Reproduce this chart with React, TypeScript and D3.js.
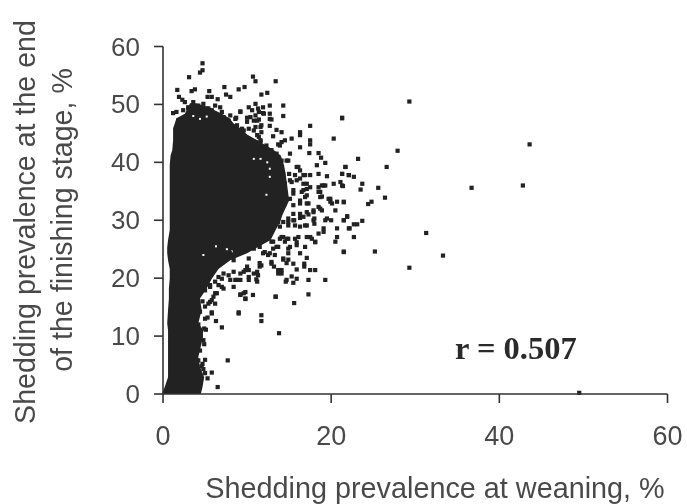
import React from "react";
import * as d3 from "d3";

const sparsePoints: [number, number][] = [
[4.7,57.1],[4.4,55.5],[4.7,55.9],[3.1,54.7],[1.7,52.5],[3.4,52.3],[3.8,52.6],[5.5,52.3],[7.3,53.0],[7.5,51.7],[8.0,51.3],[9.0,52.6],[9.7,53.0],[10.7,54.8],[11.0,54.0],[13.4,54.0],[11.7,51.7],[12.4,52.0],[5.3,51.3],[5.8,51.3],[6.5,50.9],[1.9,51.3],[2.3,50.8],[2.6,50.4],[1.2,48.5],[1.6,48.7],[1.8,47.2],[2.4,47.0],[3.6,50.4],[3.0,49.3],[3.8,49.6],[5.2,49.3],[4.8,50.1],[6.2,49.8],[6.8,49.5],[7.0,48.7],[8.0,48.1],[7.8,47.2],[9.2,48.8],[8.7,47.7],[10.2,49.5],[11.0,50.1],[10.6,49.0],[11.3,49.3],[11.9,49.5],[12.7,49.8],[11.9,48.5],[12.7,48.4],[12.7,47.5],[14.3,49.8],[14.3,48.0],[11.2,47.2],[10.4,47.8],[10.0,47.0],[11.6,46.1],[12.7,46.3],[9.6,45.5],[8.8,45.5],[10.8,45.5],[11.2,44.7],[9.0,44.4],[10.0,43.8],[11.0,43.5],[11.6,43.8],[13.5,45.6],[14.1,45.2],[13.1,44.5],[16.3,45.2],[16.3,44.7],[17.5,46.3],[21.3,47.7],[20.3,44.1],[15.3,44.1],[14.5,43.8],[14.1,43.5],[13.7,43.1],[17.5,43.8],[17.5,43.1],[16.3,42.6],[15.1,41.5],[17.4,41.6],[18.5,41.6],[18.8,40.8],[19.3,39.9],[18.3,39.5],[14.7,40.3],[14.1,40.3],[16.1,39.2],[16.3,38.6],[21.7,39.2],[21.3,38.0],[22.1,37.8],[18.5,38.0],[19.5,37.6],[17.5,37.8],[16.9,37.8],[20.3,36.3],[21.1,36.6],[21.4,35.9],[19.1,36.0],[18.5,35.7],[18.7,34.9],[18.9,34.1],[17.1,36.3],[17.5,35.7],[15.9,36.9],[15.1,36.9],[16.7,35.2],[17.1,34.3],[15.5,34.6],[17.1,32.9],[16.3,32.9],[18.7,32.0],[19.9,33.7],[20.1,32.9],[20.7,33.2],[21.5,33.2],[20.5,31.7],[17.9,31.4],[21.9,30.6],[19.5,30.3],[17.1,31.4],[16.3,31.1],
[19.3,30.0],[20.0,30.0],[21.5,30.0],[22.1,28.6],[20.7,28.6],[19.1,28.6],[18.5,27.7],[17.9,30.0],[17.1,29.1],[16.3,28.9],[15.5,30.0],[14.9,29.7],[14.3,27.1],[14.9,26.8],[15.7,26.8],[16.1,27.1],[17.1,27.1],[17.5,27.1],[18.1,26.3],[20.7,27.1],[20.5,26.3],[21.5,24.5],[16.9,25.4],[15.9,25.7],[15.1,25.4],[16.3,24.3],[14.9,24.3],[17.1,23.5],[14.3,23.2],[14.9,23.2],[15.5,22.5],[16.8,22.5],[16.8,22.0],[17.5,21.4],[18.1,21.4],[15.9,21.5],[15.3,20.3],[15.9,19.9],[14.6,19.4],[15.5,19.2],[17.3,19.7],[19.3,19.7],[17.3,17.2],[15.6,15.7],[13.4,16.8],[13.7,20.8],[14.1,21.4],[12.9,22.8],[13.2,22.0],[11.9,24.3],[12.5,24.0],[13.3,24.0],[13.7,25.4],[11.5,22.0],[11.2,21.1],[11.2,19.4],[10.2,19.7],[10.8,20.8],[9.8,21.4],[9.2,20.8],[8.8,19.7],[8.0,19.7],[7.0,19.9],[6.6,18.8],[7.2,18.2],[8.4,18.5],[9.8,17.6],[9.2,17.1],[9.8,16.4],[10.7,17.1],[6.2,17.4],[5.8,16.2],[5.4,15.6],[5.8,13.9],[5.3,13.2],[6.3,12.6],[7.0,11.5],[9.0,13.9],[11.7,13.6],[11.7,12.6],[13.8,10.5],[5.1,11.1],[4.8,9.3],[5.0,5.9],[7.7,5.8],[4.6,4.8],[5.0,3.6],[5.8,3.7],[5.3,2.7],[6.5,1.2],[5.6,18.8],[5.0,17.9],
[29.3,50.5],[21.3,47.6],[43.6,43.1],[27.9,42.0],[23.2,40.6],[26.6,39.2],[21.7,39.2],[21.3,38.0],[22.1,37.8],[22.7,37.5],[36.7,35.6],[42.8,36.0],[25.6,35.6],[23.7,36.3],[23.5,35.3],[21.3,36.0],[26.4,33.9],[21.5,33.1],[24.4,32.8],[24.8,33.2],[21.9,30.7],[21.5,30.0],[23.7,29.9],[23.1,29.3],[22.7,29.3],[22.2,28.6],[22.7,27.1],[31.3,27.8],[21.5,24.6],[25.2,24.6],[33.3,23.9],[29.3,21.8],[49.5,0.2],
// fringe of the mass, top
[2.4,49.0],[3.0,49.5],[4.2,49.8],[5.4,49.3],[5.8,49.0],[6.2,48.1],[7.2,47.8],[8.6,47.5],[8.8,46.4],[9.2,48.7],[11.4,48.7],[11.0,48.1],[10.0,47.7],[10.8,47.2],[11.4,47.4],[12.0,48.4],[12.9,47.4],[11.7,46.4],[11.0,46.1],[9.4,45.8],[10.2,45.8],[8.6,45.2],[9.6,44.4],[10.2,43.8],[11.4,44.4],[11.7,45.2],[11.6,43.6],[12.3,42.9],[12.9,42.1],[13.5,41.5],[13.9,42.9],
// fringe of the mass, right
[14.3,38.0],[14.9,40.3],[15.9,39.2],[13.5,38.6],[15.0,38.0],[15.7,37.8],[16.7,37.8],[16.3,37.2],[14.5,36.3],[15.3,36.6],[15.5,35.2],[16.7,36.3],[17.1,35.4],[16.5,34.9],[15.1,33.7],[14.5,32.9],[15.5,32.6],[16.3,33.4],[16.9,34.0],[17.3,32.9],[17.9,31.7],[17.3,31.0],[16.3,30.4],[15.5,31.1],[14.9,30.3],[15.6,30.0],[16.7,30.6],[18.0,30.3],[18.0,29.4],[16.9,29.1],[15.7,29.1],[14.9,29.1],[14.3,29.7],[13.7,29.7],[13.9,28.9],[14.1,27.1],[14.7,26.8],[15.9,26.2],[17.7,26.8],[18.1,26.2],[13.1,26.3],[13.5,25.4],[18.9,36.0],[19.3,36.0],[18.5,34.9],[18.7,34.0],[19.7,33.7],[19.9,33.2],[18.5,32.3],[18.9,31.7],[19.1,28.0],
// fringe of the mass, lower right
[6.6,24.3],[8.0,24.3],[8.4,23.1],[6.4,23.1],[10.2,23.4],[10.8,25.1],[11.5,25.4],[11.3,27.4],[12.9,26.3],[12.7,24.3],[12.1,24.5],[11.7,22.2],[10.0,22.0],[9.6,21.1],[10.2,21.4],[8.4,21.1],[7.2,20.8],[7.8,20.5],[6.6,20.2],[8.6,19.7],[7.0,18.5],[6.2,19.4],[5.6,18.5],[6.4,17.4],[6.0,16.8],[5.6,15.9],[6.2,15.6],[5.0,15.1],[9.2,19.7],[10.2,20.2],[11.1,19.8],[11.3,20.5],[11.5,22.6],[12.9,22.5],[13.7,21.4],[14.1,20.8],[14.3,23.4],[14.7,22.6],[14.7,19.7],[9.2,17.2],[9.6,17.4],[9.8,16.5],[13.4,16.8],[9.0,14.1],[5.8,14.1],[13.1,25.1],[13.9,26.8],[14.5,26.3],[14.9,25.1],
// fringe of the column
[4.2,12.0],[4.9,11.3],[4.5,10.0],[4.9,8.6],[4.4,7.5],[4.2,5.8],[4.7,5.2],[4.8,4.3],[4.4,14.2],[5.0,13.0],[4.7,16.0],
];

// Where thousands of points merge into a solid mass they cannot be read one by one,
// so the mass is drawn as its outline, read row by row: finishing %, left edge, right edge
const denseY = [50.2,49.5,48.4,47.6,46.7,45.9,44.8,43.8,42.1,41.2,39.5,37.8,35.7,33.4,30.9,30.0,28.3,26.6,25.3,24.3,23.1,21.6,19.9,18.2,16.5,14.5,12.2,11.0,8.8,6.4,4.7,2.9,1.2,0.0];
const denseLeft = [3.2,3.0,2.6,1.6,1.4,1.2,1.2,1.2,1.1,0.9,0.8,0.8,0.8,0.8,0.8,0.8,0.8,0.6,0.5,0.5,0.6,0.8,0.8,0.7,0.7,0.6,0.5,0.6,0.6,0.6,0.6,0.6,0.2,-0.1];
const denseRight = [3.9,5.4,7.0,7.9,8.4,9.2,10.0,11.2,13.2,14.0,14.4,14.6,14.8,15.0,14.2,14.0,13.4,12.8,11.2,10.0,8.0,6.6,5.8,5.2,4.4,4.6,4.2,4.8,4.6,4.2,4.4,4.9,4.7,4.5];

// Small white gaps visible inside the mass
const gapPoints: [number, number][] = [[10.8,40.6],[11.6,40.6],[12.4,40.0],[12.7,38.9],[12.7,37.5],[12.3,34.4],[4.4,47.5],[5.2,47.9],[3.6,48.0],[7.6,25.0],[6.3,25.5],[4.8,24.0],[8.2,24.6]];

const xTicks = [0, 20, 40, 60];
const yTicks = [0, 10, 20, 30, 40, 50, 60];
const xTitle = "Shedding prevalence at weaning, %";
const yTitleLines = ["Shedding prevalence at the end", "of the finishing stage, %"];
const note = "r = 0.507";

const W = 687, H = 504;
const x = d3.scaleLinear().domain([0, 60]).range([163, 667.5]);
const y = d3.scaleLinear().domain([0, 60]).range([394, 46.5]);
const ink = "#222";
const axisInk = "#333";
const textInk = "#4a4a4a";
const sans = "'Liberation Sans', Arial, sans-serif";

export default function App() {
  const rows = denseY.map((v, i) => ({ y: v, l: denseLeft[i], r: denseRight[i] }));
  const area = d3.area<{ y: number; l: number; r: number }>()
    .y(d => y(d.y)).x0(d => x(d.l)).x1(d => x(d.r)).curve(d3.curveLinear);
  const s = 4.2;
  return (
    <svg width={W} height={H} style={{ position: "absolute", left: 0, top: 0, background: "#fff" }}>
      <defs>
        <filter id="soft" x="0" y="0" width="1" height="1" filterUnits="objectBoundingBox">
          <feGaussianBlur stdDeviation="0.45" />
        </filter>
      </defs>
      <g filter="url(#soft)">
        <rect width={W} height={H} fill="#fff" />
        <path d={area(rows) ?? ""} fill={ink} />
        {gapPoints.map((p, i) => (
          <rect key={i} x={x(p[0]) - 1} y={y(p[1]) - 1} width={2} height={2} fill="#fff" />
        ))}
        {sparsePoints.map((p, i) => (
          <rect key={i} x={x(p[0]) - s / 2} y={y(p[1]) - s / 2} width={s} height={s} fill={ink} />
        ))}
        <g stroke={axisInk} strokeWidth={1.6} fill="none">
          <line x1={x(0)} x2={x(60)} y1={y(0)} y2={y(0)} />
          <line x1={x(0)} x2={x(0)} y1={y(0)} y2={y(60)} />
          {xTicks.map(t => <line key={t} x1={x(t)} x2={x(t)} y1={y(0)} y2={y(0) + 9} />)}
          {yTicks.map(t => <line key={t} x1={x(0) - 9} x2={x(0)} y1={y(t)} y2={y(t)} />)}
        </g>
        <g fontFamily={sans} fill={textInk}>
          {xTicks.map(t => <text key={t} x={x(t)} y={445} textAnchor="middle" fontSize={27}>{t}</text>)}
          {yTicks.map(t => <text key={t} x={140} y={y(t) + 9} textAnchor="end" fontSize={26}>{t}</text>)}
          <text x={435} y={498} textAnchor="middle" fontSize={28.8}>{xTitle}</text>
          <text transform="translate(35,222) rotate(-90)" textAnchor="middle" fontSize={28.6}>{yTitleLines[0]}</text>
          <text transform="translate(72,220) rotate(-90)" textAnchor="middle" fontSize={28.6}>{yTitleLines[1]}</text>
        </g>
        <text x={455} y={359} fontFamily="'Liberation Serif', 'Times New Roman', serif" fontWeight="bold" fontSize={32.5} fill="#2a2a2a">{note}</text>
      </g>
    </svg>
  );
}
